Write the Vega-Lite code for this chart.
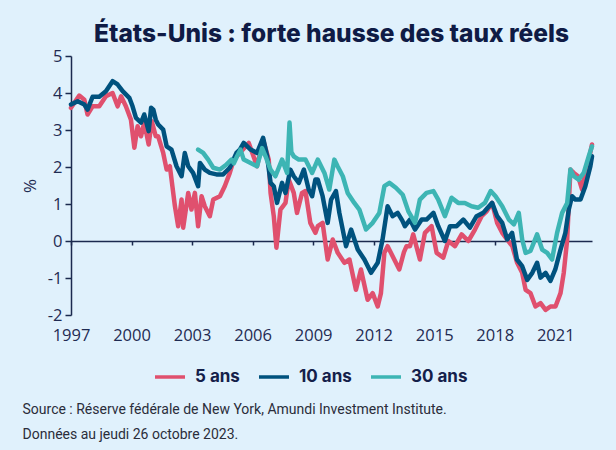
{
  "$schema": "https://vega.github.io/schema/vega-lite/v6.json",
  "width": 521,
  "height": 259,
  "autosize": {"type": "none"},
  "padding": {"left": 71, "top": 56, "right": 24, "bottom": 135},
  "background": "#e0f1fc",
  "title": {"text": "États-Unis : forte hausse des taux réels", "font": "Inter", "fontSize": 24.5, "fontWeight": 800, "color": "#0f1b45", "anchor": "middle", "offset": 1},
  "config": {"view": {"stroke": null}},
  "data": {"values": [
    {"annee": 1997.0, "serie": "5 ans", "taux": 3.6},
    {"annee": 1997.41, "serie": "5 ans", "taux": 3.93},
    {"annee": 1997.66, "serie": "5 ans", "taux": 3.82},
    {"annee": 1997.82, "serie": "5 ans", "taux": 3.42},
    {"annee": 1998.07, "serie": "5 ans", "taux": 3.64},
    {"annee": 1998.4, "serie": "5 ans", "taux": 3.64},
    {"annee": 1998.73, "serie": "5 ans", "taux": 3.91},
    {"annee": 1999.06, "serie": "5 ans", "taux": 4.0},
    {"annee": 1999.31, "serie": "5 ans", "taux": 3.64},
    {"annee": 1999.48, "serie": "5 ans", "taux": 3.91},
    {"annee": 1999.72, "serie": "5 ans", "taux": 3.64},
    {"annee": 1999.97, "serie": "5 ans", "taux": 3.28},
    {"annee": 2000.14, "serie": "5 ans", "taux": 2.52},
    {"annee": 2000.3, "serie": "5 ans", "taux": 3.1},
    {"annee": 2000.47, "serie": "5 ans", "taux": 2.83},
    {"annee": 2000.63, "serie": "5 ans", "taux": 3.2},
    {"annee": 2000.85, "serie": "5 ans", "taux": 2.61},
    {"annee": 2001.0, "serie": "5 ans", "taux": 3.24},
    {"annee": 2001.2, "serie": "5 ans", "taux": 2.83},
    {"annee": 2001.32, "serie": "5 ans", "taux": 2.83},
    {"annee": 2001.57, "serie": "5 ans", "taux": 2.38},
    {"annee": 2001.74, "serie": "5 ans", "taux": 1.93},
    {"annee": 2001.9, "serie": "5 ans", "taux": 2.02},
    {"annee": 2002.15, "serie": "5 ans", "taux": 0.94},
    {"annee": 2002.31, "serie": "5 ans", "taux": 0.4},
    {"annee": 2002.48, "serie": "5 ans", "taux": 1.12},
    {"annee": 2002.56, "serie": "5 ans", "taux": 0.36},
    {"annee": 2002.81, "serie": "5 ans", "taux": 1.3},
    {"annee": 2002.97, "serie": "5 ans", "taux": 0.85},
    {"annee": 2003.14, "serie": "5 ans", "taux": 1.3},
    {"annee": 2003.3, "serie": "5 ans", "taux": 0.4},
    {"annee": 2003.47, "serie": "5 ans", "taux": 1.21},
    {"annee": 2003.63, "serie": "5 ans", "taux": 0.94},
    {"annee": 2003.88, "serie": "5 ans", "taux": 0.67},
    {"annee": 2004.05, "serie": "5 ans", "taux": 1.12},
    {"annee": 2004.38, "serie": "5 ans", "taux": 1.21},
    {"annee": 2004.62, "serie": "5 ans", "taux": 1.48},
    {"annee": 2004.87, "serie": "5 ans", "taux": 1.84},
    {"annee": 2005.07, "serie": "5 ans", "taux": 2.2},
    {"annee": 2005.4, "serie": "5 ans", "taux": 2.4},
    {"annee": 2005.81, "serie": "5 ans", "taux": 2.65},
    {"annee": 2006.22, "serie": "5 ans", "taux": 2.02},
    {"annee": 2006.52, "serie": "5 ans", "taux": 2.74},
    {"annee": 2006.8, "serie": "5 ans", "taux": 2.2},
    {"annee": 2006.89, "serie": "5 ans", "taux": 1.3},
    {"annee": 2007.05, "serie": "5 ans", "taux": 0.67},
    {"annee": 2007.18, "serie": "5 ans", "taux": -0.18},
    {"annee": 2007.38, "serie": "5 ans", "taux": 0.85},
    {"annee": 2007.63, "serie": "5 ans", "taux": 1.03},
    {"annee": 2007.79, "serie": "5 ans", "taux": 1.66},
    {"annee": 2008.04, "serie": "5 ans", "taux": 1.3},
    {"annee": 2008.2, "serie": "5 ans", "taux": 0.76},
    {"annee": 2008.45, "serie": "5 ans", "taux": 1.3},
    {"annee": 2008.62, "serie": "5 ans", "taux": 1.35},
    {"annee": 2008.86, "serie": "5 ans", "taux": 0.49},
    {"annee": 2009.11, "serie": "5 ans", "taux": 0.22},
    {"annee": 2009.23, "serie": "5 ans", "taux": 0.4},
    {"annee": 2009.47, "serie": "5 ans", "taux": 0.49},
    {"annee": 2009.72, "serie": "5 ans", "taux": -0.5},
    {"annee": 2009.97, "serie": "5 ans", "taux": 0.04},
    {"annee": 2010.22, "serie": "5 ans", "taux": -0.32},
    {"annee": 2010.55, "serie": "5 ans", "taux": -0.59},
    {"annee": 2010.8, "serie": "5 ans", "taux": -0.5},
    {"annee": 2011.12, "serie": "5 ans", "taux": -1.32},
    {"annee": 2011.37, "serie": "5 ans", "taux": -0.77},
    {"annee": 2011.7, "serie": "5 ans", "taux": -1.59},
    {"annee": 2011.95, "serie": "5 ans", "taux": -1.41},
    {"annee": 2012.2, "serie": "5 ans", "taux": -1.77},
    {"annee": 2012.36, "serie": "5 ans", "taux": -1.41},
    {"annee": 2012.53, "serie": "5 ans", "taux": -0.32},
    {"annee": 2012.69, "serie": "5 ans", "taux": -0.14},
    {"annee": 2012.94, "serie": "5 ans", "taux": -0.41},
    {"annee": 2013.27, "serie": "5 ans", "taux": -0.77},
    {"annee": 2013.5, "serie": "5 ans", "taux": -0.3},
    {"annee": 2013.63, "serie": "5 ans", "taux": -0.14},
    {"annee": 2013.8, "serie": "5 ans", "taux": -0.14},
    {"annee": 2013.96, "serie": "5 ans", "taux": 0.18},
    {"annee": 2014.29, "serie": "5 ans", "taux": -0.5},
    {"annee": 2014.54, "serie": "5 ans", "taux": 0.22},
    {"annee": 2014.87, "serie": "5 ans", "taux": 0.4},
    {"annee": 2015.12, "serie": "5 ans", "taux": -0.32},
    {"annee": 2015.45, "serie": "5 ans", "taux": -0.45},
    {"annee": 2015.7, "serie": "5 ans", "taux": 0.0},
    {"annee": 2016.03, "serie": "5 ans", "taux": -0.14},
    {"annee": 2016.36, "serie": "5 ans", "taux": 0.18},
    {"annee": 2016.69, "serie": "5 ans", "taux": 0.0},
    {"annee": 2017.02, "serie": "5 ans", "taux": 0.31},
    {"annee": 2017.35, "serie": "5 ans", "taux": 0.67},
    {"annee": 2017.6, "serie": "5 ans", "taux": 0.8},
    {"annee": 2017.87, "serie": "5 ans", "taux": 1.03},
    {"annee": 2018.12, "serie": "5 ans", "taux": 0.49},
    {"annee": 2018.37, "serie": "5 ans", "taux": 0.22},
    {"annee": 2018.62, "serie": "5 ans", "taux": 0.04},
    {"annee": 2018.87, "serie": "5 ans", "taux": -0.14},
    {"annee": 2019.11, "serie": "5 ans", "taux": -0.59},
    {"annee": 2019.36, "serie": "5 ans", "taux": -0.86},
    {"annee": 2019.53, "serie": "5 ans", "taux": -1.32},
    {"annee": 2019.77, "serie": "5 ans", "taux": -1.41},
    {"annee": 2020.02, "serie": "5 ans", "taux": -1.77},
    {"annee": 2020.27, "serie": "5 ans", "taux": -1.68},
    {"annee": 2020.52, "serie": "5 ans", "taux": -1.86},
    {"annee": 2020.76, "serie": "5 ans", "taux": -1.77},
    {"annee": 2021.01, "serie": "5 ans", "taux": -1.77},
    {"annee": 2021.26, "serie": "5 ans", "taux": -1.41},
    {"annee": 2021.42, "serie": "5 ans", "taux": -0.86},
    {"annee": 2021.59, "serie": "5 ans", "taux": 0.04},
    {"annee": 2021.75, "serie": "5 ans", "taux": 1.93},
    {"annee": 2021.92, "serie": "5 ans", "taux": 1.84},
    {"annee": 2022.13, "serie": "5 ans", "taux": 1.75},
    {"annee": 2022.33, "serie": "5 ans", "taux": 1.39},
    {"annee": 2022.49, "serie": "5 ans", "taux": 1.84},
    {"annee": 2022.66, "serie": "5 ans", "taux": 2.2},
    {"annee": 2022.82, "serie": "5 ans", "taux": 2.61},

    {"annee": 1997.0, "serie": "10 ans", "taux": 3.69},
    {"annee": 1997.33, "serie": "10 ans", "taux": 3.78},
    {"annee": 1997.66, "serie": "10 ans", "taux": 3.69},
    {"annee": 1997.82, "serie": "10 ans", "taux": 3.55},
    {"annee": 1998.07, "serie": "10 ans", "taux": 3.9},
    {"annee": 1998.4, "serie": "10 ans", "taux": 3.9},
    {"annee": 1998.73, "serie": "10 ans", "taux": 4.05},
    {"annee": 1999.06, "serie": "10 ans", "taux": 4.32},
    {"annee": 1999.31, "serie": "10 ans", "taux": 4.23},
    {"annee": 1999.56, "serie": "10 ans", "taux": 4.05},
    {"annee": 1999.89, "serie": "10 ans", "taux": 3.87},
    {"annee": 2000.05, "serie": "10 ans", "taux": 3.64},
    {"annee": 2000.22, "serie": "10 ans", "taux": 3.33},
    {"annee": 2000.47, "serie": "10 ans", "taux": 3.2},
    {"annee": 2000.63, "serie": "10 ans", "taux": 3.42},
    {"annee": 2000.85, "serie": "10 ans", "taux": 2.97},
    {"annee": 2000.97, "serie": "10 ans", "taux": 3.6},
    {"annee": 2001.08, "serie": "10 ans", "taux": 3.55},
    {"annee": 2001.2, "serie": "10 ans", "taux": 3.28},
    {"annee": 2001.32, "serie": "10 ans", "taux": 3.15},
    {"annee": 2001.57, "serie": "10 ans", "taux": 3.01},
    {"annee": 2001.74, "serie": "10 ans", "taux": 2.56},
    {"annee": 2001.98, "serie": "10 ans", "taux": 2.47},
    {"annee": 2002.23, "serie": "10 ans", "taux": 2.02},
    {"annee": 2002.48, "serie": "10 ans", "taux": 1.75},
    {"annee": 2002.64, "serie": "10 ans", "taux": 2.38},
    {"annee": 2002.81, "serie": "10 ans", "taux": 2.02},
    {"annee": 2003.05, "serie": "10 ans", "taux": 1.84},
    {"annee": 2003.3, "serie": "10 ans", "taux": 1.48},
    {"annee": 2003.39, "serie": "10 ans", "taux": 2.11},
    {"annee": 2003.63, "serie": "10 ans", "taux": 1.93},
    {"annee": 2003.88, "serie": "10 ans", "taux": 1.84},
    {"annee": 2004.21, "serie": "10 ans", "taux": 1.8},
    {"annee": 2004.54, "serie": "10 ans", "taux": 1.8},
    {"annee": 2004.87, "serie": "10 ans", "taux": 1.98},
    {"annee": 2005.2, "serie": "10 ans", "taux": 2.38},
    {"annee": 2005.37, "serie": "10 ans", "taux": 2.47},
    {"annee": 2005.56, "serie": "10 ans", "taux": 2.65},
    {"annee": 2005.9, "serie": "10 ans", "taux": 2.47},
    {"annee": 2006.22, "serie": "10 ans", "taux": 2.38},
    {"annee": 2006.52, "serie": "10 ans", "taux": 2.79},
    {"annee": 2006.72, "serie": "10 ans", "taux": 2.29},
    {"annee": 2006.89, "serie": "10 ans", "taux": 1.57},
    {"annee": 2007.05, "serie": "10 ans", "taux": 1.48},
    {"annee": 2007.21, "serie": "10 ans", "taux": 1.03},
    {"annee": 2007.46, "serie": "10 ans", "taux": 1.57},
    {"annee": 2007.63, "serie": "10 ans", "taux": 1.3},
    {"annee": 2007.87, "serie": "10 ans", "taux": 1.93},
    {"annee": 2008.04, "serie": "10 ans", "taux": 1.75},
    {"annee": 2008.29, "serie": "10 ans", "taux": 1.57},
    {"annee": 2008.54, "serie": "10 ans", "taux": 1.93},
    {"annee": 2008.78, "serie": "10 ans", "taux": 1.39},
    {"annee": 2008.95, "serie": "10 ans", "taux": 1.21},
    {"annee": 2009.11, "serie": "10 ans", "taux": 1.66},
    {"annee": 2009.23, "serie": "10 ans", "taux": 1.66},
    {"annee": 2009.47, "serie": "10 ans", "taux": 1.21},
    {"annee": 2009.72, "serie": "10 ans", "taux": 0.49},
    {"annee": 2009.89, "serie": "10 ans", "taux": 1.12},
    {"annee": 2010.13, "serie": "10 ans", "taux": 1.35},
    {"annee": 2010.3, "serie": "10 ans", "taux": 0.76},
    {"annee": 2010.63, "serie": "10 ans", "taux": -0.14},
    {"annee": 2010.88, "serie": "10 ans", "taux": 0.31},
    {"annee": 2011.21, "serie": "10 ans", "taux": -0.23},
    {"annee": 2011.54, "serie": "10 ans", "taux": -0.5},
    {"annee": 2011.87, "serie": "10 ans", "taux": -0.86},
    {"annee": 2012.2, "serie": "10 ans", "taux": -0.59},
    {"annee": 2012.44, "serie": "10 ans", "taux": 0.04},
    {"annee": 2012.69, "serie": "10 ans", "taux": 0.94},
    {"annee": 2012.94, "serie": "10 ans", "taux": 0.67},
    {"annee": 2013.19, "serie": "10 ans", "taux": 0.76},
    {"annee": 2013.42, "serie": "10 ans", "taux": 0.55},
    {"annee": 2013.55, "serie": "10 ans", "taux": 0.4},
    {"annee": 2013.8, "serie": "10 ans", "taux": 0.58},
    {"annee": 2014.05, "serie": "10 ans", "taux": 0.31},
    {"annee": 2014.38, "serie": "10 ans", "taux": 0.58},
    {"annee": 2014.62, "serie": "10 ans", "taux": 0.58},
    {"annee": 2014.96, "serie": "10 ans", "taux": 0.76},
    {"annee": 2015.2, "serie": "10 ans", "taux": 0.4},
    {"annee": 2015.53, "serie": "10 ans", "taux": 0.0},
    {"annee": 2015.78, "serie": "10 ans", "taux": 0.4},
    {"annee": 2016.11, "serie": "10 ans", "taux": 0.4},
    {"annee": 2016.44, "serie": "10 ans", "taux": 0.58},
    {"annee": 2016.77, "serie": "10 ans", "taux": 0.36},
    {"annee": 2017.1, "serie": "10 ans", "taux": 0.67},
    {"annee": 2017.43, "serie": "10 ans", "taux": 0.76},
    {"annee": 2017.65, "serie": "10 ans", "taux": 0.9},
    {"annee": 2017.87, "serie": "10 ans", "taux": 1.03},
    {"annee": 2018.12, "serie": "10 ans", "taux": 0.67},
    {"annee": 2018.37, "serie": "10 ans", "taux": 0.49},
    {"annee": 2018.62, "serie": "10 ans", "taux": 0.04},
    {"annee": 2018.86, "serie": "10 ans", "taux": 0.22},
    {"annee": 2019.1, "serie": "10 ans", "taux": -0.5},
    {"annee": 2019.36, "serie": "10 ans", "taux": -0.68},
    {"annee": 2019.61, "serie": "10 ans", "taux": -1.05},
    {"annee": 2019.86, "serie": "10 ans", "taux": -0.86},
    {"annee": 2020.1, "serie": "10 ans", "taux": -0.59},
    {"annee": 2020.27, "serie": "10 ans", "taux": -0.99},
    {"annee": 2020.52, "serie": "10 ans", "taux": -0.86},
    {"annee": 2020.76, "serie": "10 ans", "taux": -1.08},
    {"annee": 2021.0, "serie": "10 ans", "taux": -0.77},
    {"annee": 2021.26, "serie": "10 ans", "taux": -0.23},
    {"annee": 2021.5, "serie": "10 ans", "taux": 0.22},
    {"annee": 2021.67, "serie": "10 ans", "taux": 0.85},
    {"annee": 2021.83, "serie": "10 ans", "taux": 1.21},
    {"annee": 2022.0, "serie": "10 ans", "taux": 1.12},
    {"annee": 2022.25, "serie": "10 ans", "taux": 1.12},
    {"annee": 2022.49, "serie": "10 ans", "taux": 1.48},
    {"annee": 2022.74, "serie": "10 ans", "taux": 2.02},
    {"annee": 2022.82, "serie": "10 ans", "taux": 2.29},

    {"annee": 2003.3, "serie": "30 ans", "taux": 2.47},
    {"annee": 2003.55, "serie": "30 ans", "taux": 2.38},
    {"annee": 2003.8, "serie": "30 ans", "taux": 2.2},
    {"annee": 2004.05, "serie": "30 ans", "taux": 1.98},
    {"annee": 2004.38, "serie": "30 ans", "taux": 1.93},
    {"annee": 2004.71, "serie": "30 ans", "taux": 2.07},
    {"annee": 2004.95, "serie": "30 ans", "taux": 2.2},
    {"annee": 2005.07, "serie": "30 ans", "taux": 2.1},
    {"annee": 2005.23, "serie": "30 ans", "taux": 2.29},
    {"annee": 2005.4, "serie": "30 ans", "taux": 2.47},
    {"annee": 2005.56, "serie": "30 ans", "taux": 2.2},
    {"annee": 2005.9, "serie": "30 ans", "taux": 2.11},
    {"annee": 2006.22, "serie": "30 ans", "taux": 2.02},
    {"annee": 2006.47, "serie": "30 ans", "taux": 2.51},
    {"annee": 2006.64, "serie": "30 ans", "taux": 2.29},
    {"annee": 2006.89, "serie": "30 ans", "taux": 1.93},
    {"annee": 2007.13, "serie": "30 ans", "taux": 1.75},
    {"annee": 2007.46, "serie": "30 ans", "taux": 2.2},
    {"annee": 2007.71, "serie": "30 ans", "taux": 1.84},
    {"annee": 2007.83, "serie": "30 ans", "taux": 3.2},
    {"annee": 2007.92, "serie": "30 ans", "taux": 2.4},
    {"annee": 2008.04, "serie": "30 ans", "taux": 2.29},
    {"annee": 2008.29, "serie": "30 ans", "taux": 2.2},
    {"annee": 2008.62, "serie": "30 ans", "taux": 2.2},
    {"annee": 2008.95, "serie": "30 ans", "taux": 1.84},
    {"annee": 2009.23, "serie": "30 ans", "taux": 2.2},
    {"annee": 2009.56, "serie": "30 ans", "taux": 1.84},
    {"annee": 2009.8, "serie": "30 ans", "taux": 1.39},
    {"annee": 2010.05, "serie": "30 ans", "taux": 2.2},
    {"annee": 2010.21, "serie": "30 ans", "taux": 2.02},
    {"annee": 2010.47, "serie": "30 ans", "taux": 1.75},
    {"annee": 2010.71, "serie": "30 ans", "taux": 1.3},
    {"annee": 2011.04, "serie": "30 ans", "taux": 1.03},
    {"annee": 2011.29, "serie": "30 ans", "taux": 0.85},
    {"annee": 2011.62, "serie": "30 ans", "taux": 0.31},
    {"annee": 2011.95, "serie": "30 ans", "taux": 0.49},
    {"annee": 2012.28, "serie": "30 ans", "taux": 0.76},
    {"annee": 2012.53, "serie": "30 ans", "taux": 1.48},
    {"annee": 2012.78, "serie": "30 ans", "taux": 1.57},
    {"annee": 2013.1, "serie": "30 ans", "taux": 1.44},
    {"annee": 2013.44, "serie": "30 ans", "taux": 1.25},
    {"annee": 2013.72, "serie": "30 ans", "taux": 0.8},
    {"annee": 2014.05, "serie": "30 ans", "taux": 0.49},
    {"annee": 2014.29, "serie": "30 ans", "taux": 1.12},
    {"annee": 2014.62, "serie": "30 ans", "taux": 1.3},
    {"annee": 2014.96, "serie": "30 ans", "taux": 1.35},
    {"annee": 2015.2, "serie": "30 ans", "taux": 1.12},
    {"annee": 2015.53, "serie": "30 ans", "taux": 0.67},
    {"annee": 2015.86, "serie": "30 ans", "taux": 1.17},
    {"annee": 2016.19, "serie": "30 ans", "taux": 1.03},
    {"annee": 2016.52, "serie": "30 ans", "taux": 1.03},
    {"annee": 2016.85, "serie": "30 ans", "taux": 0.94},
    {"annee": 2017.18, "serie": "30 ans", "taux": 0.9},
    {"annee": 2017.51, "serie": "30 ans", "taux": 1.03},
    {"annee": 2017.8, "serie": "30 ans", "taux": 1.35},
    {"annee": 2018.04, "serie": "30 ans", "taux": 1.21},
    {"annee": 2018.37, "serie": "30 ans", "taux": 0.94},
    {"annee": 2018.7, "serie": "30 ans", "taux": 0.58},
    {"annee": 2018.95, "serie": "30 ans", "taux": 0.45},
    {"annee": 2019.19, "serie": "30 ans", "taux": 0.76},
    {"annee": 2019.36, "serie": "30 ans", "taux": 0.04},
    {"annee": 2019.53, "serie": "30 ans", "taux": -0.32},
    {"annee": 2019.77, "serie": "30 ans", "taux": -0.27},
    {"annee": 2020.1, "serie": "30 ans", "taux": 0.18},
    {"annee": 2020.35, "serie": "30 ans", "taux": -0.23},
    {"annee": 2020.6, "serie": "30 ans", "taux": -0.32},
    {"annee": 2020.84, "serie": "30 ans", "taux": -0.5},
    {"annee": 2021.09, "serie": "30 ans", "taux": 0.22},
    {"annee": 2021.34, "serie": "30 ans", "taux": 0.76},
    {"annee": 2021.59, "serie": "30 ans", "taux": 1.03},
    {"annee": 2021.75, "serie": "30 ans", "taux": 1.93},
    {"annee": 2021.92, "serie": "30 ans", "taux": 1.75},
    {"annee": 2022.16, "serie": "30 ans", "taux": 1.66},
    {"annee": 2022.41, "serie": "30 ans", "taux": 1.84},
    {"annee": 2022.66, "serie": "30 ans", "taux": 2.29},
    {"annee": 2022.82, "serie": "30 ans", "taux": 2.56}
  ]},
  "mark": {"type": "line", "strokeWidth": 4.5, "strokeJoin": "round", "strokeCap": "round"},
  "encoding": {
    "x": {
      "field": "annee", "type": "quantitative",
      "scale": {"domain": [1997, 2022.82], "nice": false, "zero": false},
      "axis": {
        "values": [1997, 2000, 2003, 2006, 2009, 2012, 2015, 2018, 2021],
        "format": "d", "grid": false, "offset": -74,
        "domainColor": "#1b2a4e", "domainWidth": 1.5,
        "tickColor": "#1b2a4e", "tickSize": 4, "tickWidth": 1.5,
        "labelPadding": 82, "labelFlush": false, "labelOverlap": false, "labelBound": false,
        "labelFont": "Open Sans", "labelFontSize": 16.5, "labelColor": "#1f2b52",
        "title": ["Source : Réserve fédérale de New York, Amundi Investment Institute.", "Données au jeudi 26 octobre 2023."],
        "titleFont": "Roboto", "titleFontSize": 14, "titleFontWeight": "normal", "titleColor": "#2b2d3a",
        "titleAnchor": "start", "titleAlign": "left", "titleBaseline": "top",
        "titleX": -49, "titleY": 161, "titleLineHeight": 25
      }
    },
    "y": {
      "field": "taux", "type": "quantitative",
      "scale": {"domain": [-2, 5], "nice": false},
      "axis": {
        "values": [-2, -1, 0, 1, 2, 3, 4, 5], "grid": false,
        "labelExpr": "'' + datum.value",
        "domainColor": "#1b2a4e", "domainWidth": 1.5,
        "tickColor": "#1b2a4e", "tickSize": 6, "tickWidth": 1.5,
        "labelPadding": 3, "labelFont": "Open Sans", "labelFontSize": 16.5, "labelColor": "#1f2b52",
        "title": "%", "titleFont": "Open Sans", "titleFontSize": 17, "titleFontWeight": "normal", "titleColor": "#1f2b52", "titlePadding": 8
      }
    },
    "color": {
      "field": "serie", "type": "nominal",
      "scale": {"domain": ["5 ans", "10 ans", "30 ans"], "range": ["#e0506e", "#00527e", "#3db5b4"]},
      "legend": {
        "title": null, "orient": "none", "direction": "horizontal",
        "legendX": 82, "legendY": 304,
        "symbolType": "stroke", "symbolSize": 900, "symbolStrokeWidth": 3.5,
        "labelFont": "Inter", "labelFontSize": 17, "labelFontWeight": "bold", "labelColor": "#14204a",
        "labelOffset": 8, "columnPadding": 12
      }
    }
  }
}
